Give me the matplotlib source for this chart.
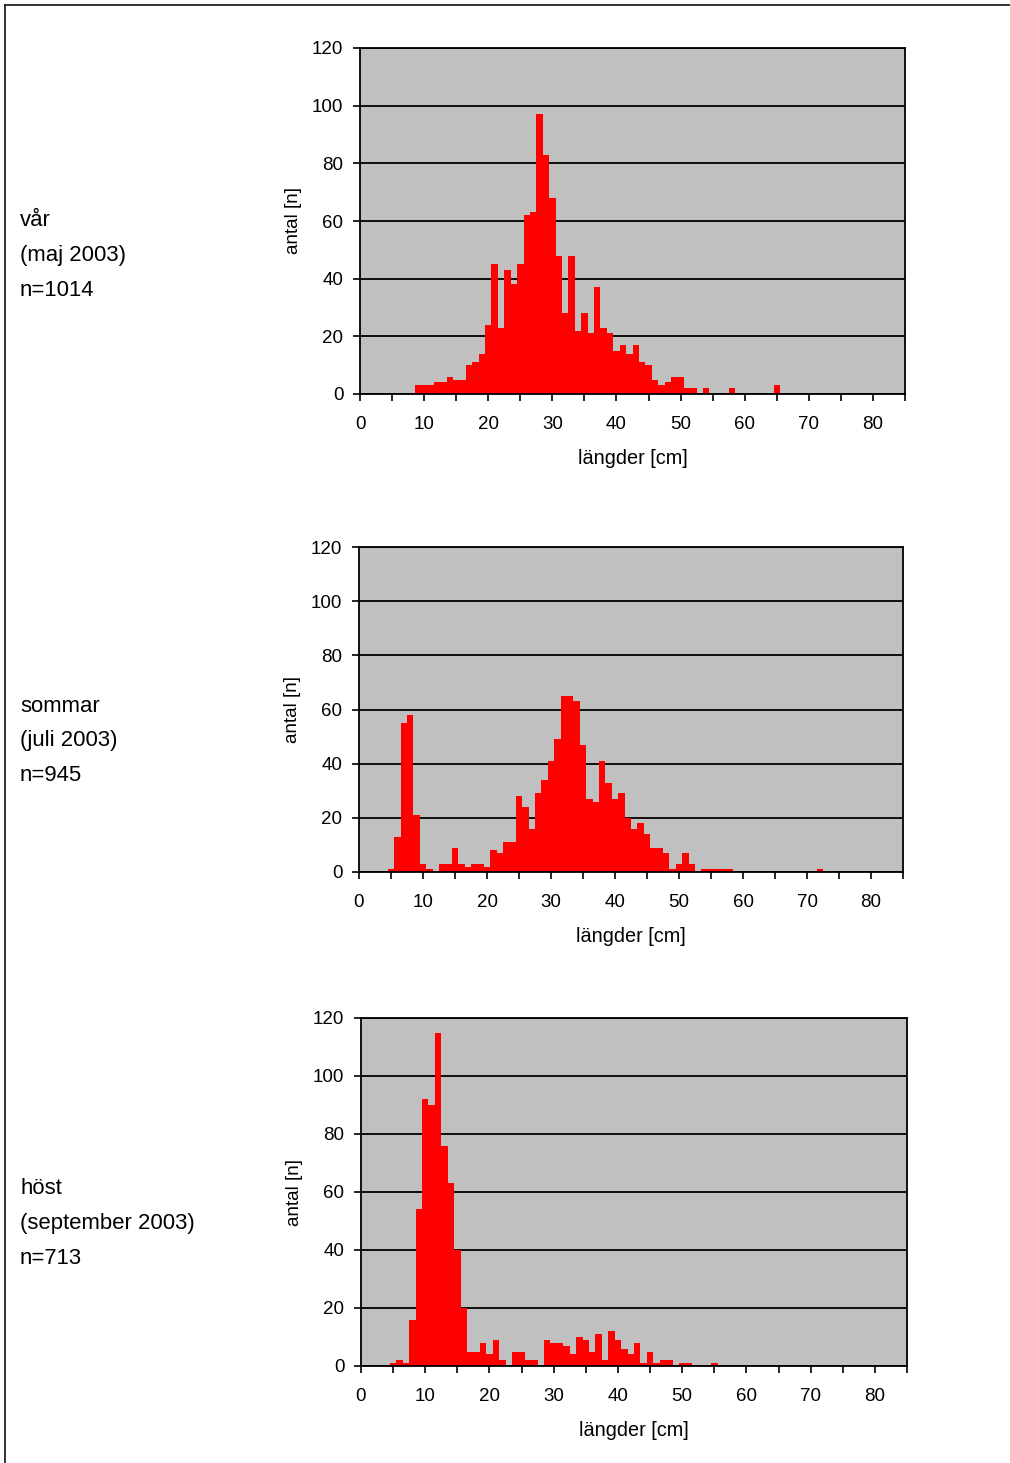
import matplotlib
matplotlib.use('Agg')
import matplotlib.pyplot as plt
from matplotlib.lines import Line2D

plt.rcParams['font.family'] = ['Liberation Sans', 'DejaVu Sans']

# längdfördelning per säsong, 1 cm klasser
var_len = list(range(9, 66))
var_n = [3, 3, 3, 4, 4, 6, 5, 5, 10, 11, 14, 24, 45, 23, 43, 38, 45, 62, 63, 97,
         83, 68, 48, 28, 48, 22, 28, 21, 37, 23, 21, 15, 17, 14, 17, 11, 10, 5, 3, 4,
         6, 6, 2, 2, 0, 2, 0, 0, 0, 2, 0, 0, 0, 0, 0, 0, 3]

sommar_len = list(range(5, 73))
sommar_n = [1, 13, 55, 58, 21, 3, 1, 0, 3, 3, 9, 3, 2, 3, 3, 2, 8, 7, 11, 11,
            28, 24, 16, 29, 34, 41, 49, 65, 65, 63, 47, 27, 26, 41, 33, 27, 29, 20, 16, 18,
            14, 9, 9, 7, 1, 3, 7, 3, 0, 1, 1, 1, 1, 1, 0, 0, 0, 0, 0, 0,
            0, 0, 0, 0, 0, 0, 0, 1]

host_len = list(range(5, 56))
host_n = [1, 2, 1, 16, 54, 92, 90, 115, 76, 63, 40, 20, 5, 5, 8, 4, 9, 2, 0, 5,
          5, 2, 2, 0, 9, 8, 8, 7, 4, 10, 9, 5, 11, 2, 12, 9, 6, 4, 8, 1,
          5, 1, 2, 2, 0, 1, 1, 0, 0, 0, 1]

titles = [['vår', '(maj 2003)', 'n=1014'],
          ['sommar', '(juli 2003)', 'n=945'],
          ['höst', '(september 2003)', 'n=713']]

W, H = 1010, 1463
fig = plt.figure(figsize=(W / 100, H / 100), dpi=100)

# axes box in pixels: left, right, top, bottom
boxes = [(360, 905, 48, 394), (359, 903, 547, 872), (361, 907, 1018, 1366)]
text_y = [(220, 256, 290), (706, 741, 776), (1188, 1224, 1258)]
data = [(var_len, var_n), (sommar_len, sommar_n), (host_len, host_n)]

for i in range(3):
    l, r, t, b = boxes[i]
    ax = fig.add_axes([l / W, 1 - b / H, (r - l) / W, (b - t) / H])
    ax.set_facecolor('#c0c0c0')
    ax.set_axisbelow(True)
    ax.yaxis.grid(True, color='black', linewidth=1.3)

    lengths, counts = data[i]
    ax.bar(lengths, counts, width=1.0, color='#ff0000', linewidth=0)

    ax.set_xlim(0, 85)
    ax.set_ylim(0, 120)
    ax.set_yticks(range(0, 121, 20))
    ax.set_xticks(range(0, 86, 5))
    ax.set_xticklabels([str(v) if v % 10 == 0 else '' for v in range(0, 86, 5)])
    ax.tick_params(axis='y', direction='out', length=5, width=1.2, pad=7,
                   labelsize=13.5, colors='black')
    ax.tick_params(axis='x', direction='out', length=5, width=1.2, pad=11,
                   labelsize=13.5, colors='black')
    for s in ax.spines.values():
        s.set_color('black')
        s.set_linewidth(1.3)

    ax.set_xlabel('längder [cm]', fontsize=14.3)
    ax.set_ylabel('antal [n]', fontsize=13.5)
    ax.xaxis.set_label_coords(0.5, -55 / (b - t))
    ax.yaxis.set_label_coords(-58 / (r - l), 0.5)

    for txt, y in zip(titles[i], text_y[i]):
        fig.text(20 / W, 1 - y / H, txt, fontsize=15.9, va='center', ha='left')

# page border
fig.add_artist(Line2D([5 / W, 1], [1 - 5 / H, 1 - 5 / H], color='#222222',
                      linewidth=1.3, transform=fig.transFigure))
fig.add_artist(Line2D([5 / W, 5 / W], [0, 1 - 5 / H], color='#222222',
                      linewidth=1.3, transform=fig.transFigure))

fig.savefig('out.png', dpi=100)
